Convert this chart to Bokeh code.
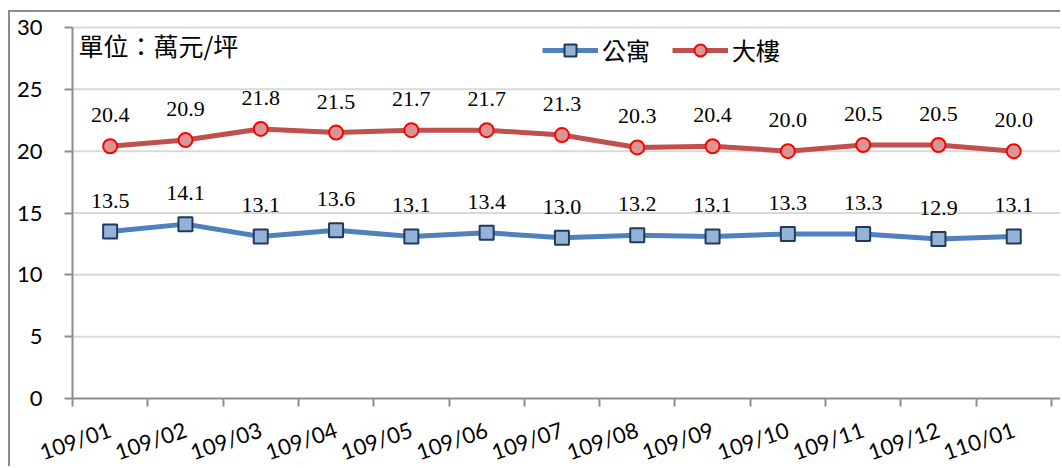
from bokeh.plotting import figure
from bokeh.models import (Range1d, FixedTicker, Legend, LegendItem, Label,
                          ColumnDataSource)
from bokeh.core.properties import value
from bokeh.embed import file_html
from bokeh.resources import INLINE

months = ["109/01", "109/02", "109/03", "109/04", "109/05", "109/06", "109/07",
          "109/08", "109/09", "109/10", "109/11", "109/12", "110/01"]
apartment = [13.5, 14.1, 13.1, 13.6, 13.1, 13.4, 13.0, 13.2, 13.1, 13.3, 13.3, 12.9, 13.1]
building = [20.4, 20.9, 21.8, 21.5, 21.7, 21.7, 21.3, 20.3, 20.4, 20.0, 20.5, 20.5, 20.0]
y_ticks = [0, 5, 10, 15, 20, 25, 30]
unit_text = "單位：萬元/坪"
series_names = ["公寓", "大樓"]

xc = [i + 0.5 for i in range(len(months))]
src = ColumnDataSource(dict(
    x=xc, apt=apartment, bld=building,
    apt_lbl=[f"{v:.1f}" for v in apartment],
    bld_lbl=[f"{v:.1f}" for v in building],
))

# page offsets of the figure (outer border drawn by CSS)
OFF_X, OFF_Y = 10, 12
W, H = 1062 - OFF_X, 468 - OFF_Y
AXIS_X = 72 - OFF_X        # y-axis position inside the figure
TOP30 = 27 - OFF_Y         # y=30 line inside the figure
ZERO = 398 - OFF_Y         # y=0 line inside the figure
px_per_unit = (ZERO - TOP30) / 30.0
px_per_cat = 75.3

x_start = -AXIS_X / px_per_cat
x_end = (W - AXIS_X) / px_per_cat
y_end = 30 + TOP30 / px_per_unit
y_start = -(H - ZERO) / px_per_unit

p = figure(width=W, height=H, output_backend="svg", toolbar_location=None,
           x_range=Range1d(x_start, x_end), y_range=Range1d(y_start, y_end),
           min_border_left=0, min_border_right=0, min_border_top=0,
           min_border_bottom=0)
p.styles = {"margin-left": "8px", "margin-top": "10px",
            "border-left": "2px solid #8c8c8c", "border-top": "2px solid #8c8c8c"}
p.outline_line_color = None
p.background_fill_color = "white"
p.border_fill_color = "white"
p.xgrid.visible = False
p.ygrid.visible = False

# horizontal gridlines (5..30), from the y axis to the right edge
grid_y = y_ticks[1:]
p.segment(x0=[0] * len(grid_y), x1=[x_end] * len(grid_y), y0=grid_y, y1=grid_y,
          line_color="#d9d9d9", line_width=2)

AX = "#8c8c8c"
p.yaxis.fixed_location = 0
p.yaxis.ticker = FixedTicker(ticks=y_ticks)
p.yaxis.bounds = (0, 30)
p.yaxis.axis_line_color = AX
p.yaxis.axis_line_width = 2
p.yaxis.major_tick_line_color = AX
p.yaxis.major_tick_line_width = 2
p.yaxis.major_tick_out = 8
p.yaxis.major_tick_in = 0
p.yaxis.minor_tick_line_color = None
p.yaxis.major_label_standoff = 22
p.yaxis.major_label_text_font = "Lato"
p.yaxis.major_label_text_font_size = "22px"
p.yaxis.major_label_text_color = "black"

p.xaxis.fixed_location = 0
p.xaxis.bounds = (0, x_end)
p.xaxis.ticker = FixedTicker(ticks=xc, minor_ticks=list(range(len(months) + 1)))
p.xaxis.major_label_overrides = {x: m for x, m in zip(xc, months)}
p.xaxis.axis_line_color = AX
p.xaxis.axis_line_width = 2
p.xaxis.major_tick_line_color = None
p.xaxis.major_tick_out = 0
p.xaxis.major_tick_in = 0
p.xaxis.minor_tick_line_color = AX
p.xaxis.minor_tick_line_width = 2
p.xaxis.minor_tick_out = 8
p.xaxis.minor_tick_in = 0
p.xaxis.major_label_orientation = 0.33
p.xaxis.major_label_standoff = 22
p.xaxis.major_label_text_font = "Lato"
p.xaxis.major_label_text_font_size = "22px"
p.xaxis.major_label_text_color = "black"

l1 = p.line("x", "apt", source=src, line_color="#4f81bd", line_width=5)
s1 = p.scatter("x", "apt", source=src, marker="square", size=14,
               fill_color="#95b3d7", line_color="#1f3a60", line_width=2)
l2 = p.line("x", "bld", source=src, line_color="#c0504d", line_width=5)
s2 = p.scatter("x", "bld", source=src, marker="circle", size=14,
               fill_color="#d99694", line_color="#ff0000", line_width=2)

for col, lbl in (("apt", "apt_lbl"), ("bld", "bld_lbl")):
    p.text("x", col, text=lbl, source=src, y_offset=-31,
           text_align="center", text_baseline="alphabetic",
           text_font=value("Liberation Serif"), text_font_size="22px",
           text_color="black")

legend = Legend(items=[LegendItem(label=series_names[0], renderers=[l1, s1]),
                       LegendItem(label=series_names[1], renderers=[l2, s2])],
                location=(542 - OFF_X, 468 - 67), orientation="horizontal",
                glyph_width=56, glyph_height=30, label_height=30,
                label_standoff=4, spacing=22, padding=0, margin=0,
                border_line_color=None, background_fill_color=None,
                label_text_font="Noto Sans CJK TC", label_text_font_size="24px",
                label_text_color="black")
p.add_layout(legend)

p.add_layout(Label(x=78 - OFF_X, y=468 - 44, x_units="screen", y_units="screen",
                   text=unit_text, text_font="Noto Sans CJK TC",
                   text_font_size="25px", text_baseline="middle",
                   text_align="left", text_color="black"))

open("out.html", "w").write(file_html(p, INLINE))
